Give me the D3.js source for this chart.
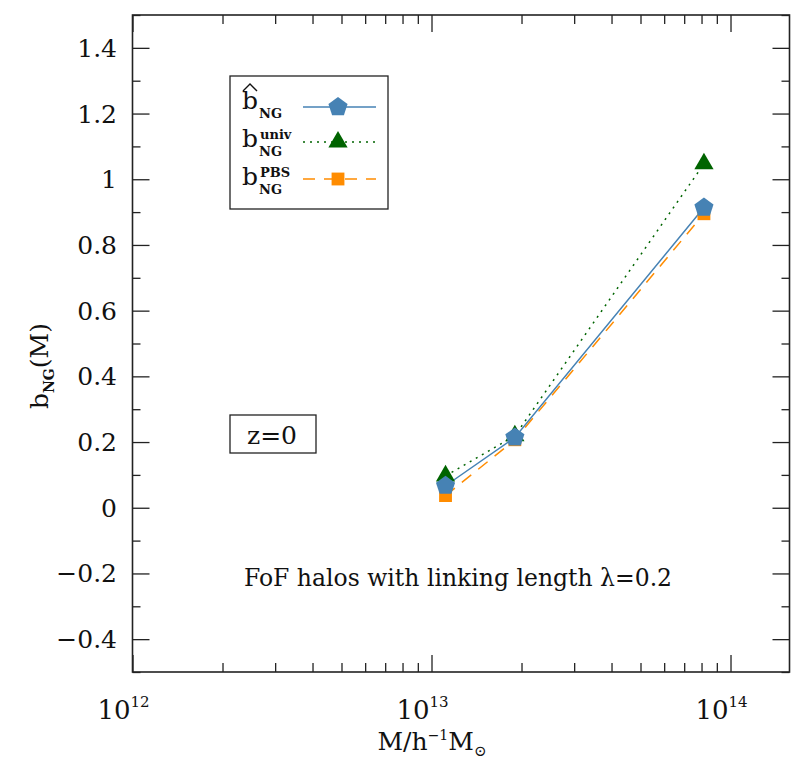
<!DOCTYPE html>
<html>
<head>
<meta charset="utf-8">
<script src="https://cdn.jsdelivr.net/npm/d3@7"></script>
<style>
  body { margin: 0; background: #fff; }
  text { font-family: "DejaVu Serif", serif; fill: #111; }
</style>
</head>
<body>
<div id="chart"></div>
<script>
// halo masses (h^-1 Msun) and non-gaussian bias values
var mass = [1.114e13, 1.90e13, 8.15e13];
var bHat = [0.067, 0.214, 0.914];
var bUniv = [0.097, 0.219, 1.047];
var bPBS = [0.037, 0.207, 0.895];

var yTicks = [-0.4, -0.2, 0, 0.2, 0.4, 0.6, 0.8, 1, 1.2, 1.4];
var yTickLabels = ["\u22120.4", "\u22120.2", "0", "0.2", "0.4", "0.6", "0.8", "1", "1.2", "1.4"];
var xDecades = [1e12, 1e13, 1e14];
var xDecadeExp = ["12", "13", "14"];

function init() {
    var w = 804, h = 767;
    var margin = { top: 15, right: 14.5, bottom: 95, left: 132.5 };

    var svg = d3.select("#chart").append("svg")
        .attr("width", w)
        .attr("height", h);

    var x = d3.scaleLog().domain([1e12, 1.575e14]).range([margin.left, w - margin.right]);
    var y = d3.scaleLinear().domain([-0.5, 1.5]).range([h - margin.bottom, margin.top]);

    var x0 = margin.left, x1 = w - margin.right, y0 = h - margin.bottom, y1 = margin.top;

    var minorX = [];
    [1e12, 1e13, 1e14].forEach(function(d) {
        for (var k = 2; k <= 9; k++) if (d * k < 1.575e14) minorX.push(d * k);
    });
    // minor y ticks at odd tenths
    var minorY = [-0.5, -0.3, -0.1, 0.1, 0.3, 0.5, 0.7, 0.9, 1.1, 1.3, 1.5];

    function styleAxis(g) {
        g.select(".domain").remove();
        g.selectAll("line").attr("stroke", "#222").attr("stroke-width", 1.3);
        g.selectAll("text").remove();
    }

    // ticks on all four sides, pointing inward
    svg.append("g").attr("transform", `translate(0,${y0})`)
        .call(d3.axisBottom(x).tickValues(xDecades).tickSize(-17)).call(styleAxis);
    svg.append("g").attr("transform", `translate(0,${y0})`)
        .call(d3.axisBottom(x).tickValues(minorX).tickSize(-9)).call(styleAxis);
    svg.append("g").attr("transform", `translate(0,${y1})`)
        .call(d3.axisTop(x).tickValues(xDecades).tickSize(-17)).call(styleAxis);
    svg.append("g").attr("transform", `translate(0,${y1})`)
        .call(d3.axisTop(x).tickValues(minorX).tickSize(-9)).call(styleAxis);

    svg.append("g").attr("transform", `translate(${x0},0)`)
        .call(d3.axisLeft(y).tickValues(yTicks).tickSize(-17)).call(styleAxis);
    svg.append("g").attr("transform", `translate(${x0},0)`)
        .call(d3.axisLeft(y).tickValues(minorY).tickSize(-8)).call(styleAxis);
    svg.append("g").attr("transform", `translate(${x1},0)`)
        .call(d3.axisRight(y).tickValues(yTicks).tickSize(-17)).call(styleAxis);
    svg.append("g").attr("transform", `translate(${x1},0)`)
        .call(d3.axisRight(y).tickValues(minorY).tickSize(-8)).call(styleAxis);

    // frame
    svg.append("rect")
        .attr("x", x0).attr("y", y1)
        .attr("width", x1 - x0).attr("height", y0 - y1)
        .attr("fill", "none").attr("stroke", "#222").attr("stroke-width", 1.6);

    // y tick labels
    svg.selectAll(".ylab").data(yTicks).enter().append("text")
        .attr("class", "ylab")
        .attr("x", 117)
        .attr("y", d => y(d) + 9)
        .attr("text-anchor", "end")
        .style("font-size", "25px")
        .text((d, i) => yTickLabels[i]);

    // x tick labels 10^n
    var xl = svg.selectAll(".xlab").data(xDecades).enter().append("text")
        .attr("class", "xlab")
        .attr("x", d => x(d) - 9)
        .attr("y", 719)
        .attr("text-anchor", "middle")
        .style("font-size", "26px");
    xl.append("tspan").text("10");
    xl.append("tspan").attr("dy", -12).style("font-size", "15px").text((d, i) => xDecadeExp[i]);

    // axis titles
    var xt = svg.append("text").attr("x", 432).attr("y", 750)
        .attr("text-anchor", "middle").style("font-size", "25px");
    xt.append("tspan").text("M/h");
    xt.append("tspan").attr("dy", -10).style("font-size", "14px").text("\u22121");
    xt.append("tspan").attr("dy", 10).text("M");
    xt.append("tspan").attr("dy", 6).style("font-size", "15px").text("\u2299");

    var yt = svg.append("text")
        .attr("transform", "translate(48,366) rotate(-90)")
        .attr("text-anchor", "middle").style("font-size", "25px");
    yt.append("tspan").text("b");
    yt.append("tspan").attr("dy", 6).style("font-size", "14px").style("font-weight", "bold").text("NG");
    yt.append("tspan").attr("dy", -6).text("(M)");

    // series
    var series = [
        { name: "pbs", vals: bPBS, color: "#ff8c00", dash: "12,9", shape: d3.symbolSquare, size: 165 },
        { name: "univ", vals: bUniv, color: "#006400", dash: "2,5", shape: d3.symbolTriangle, size: 160 },
        { name: "hat", vals: bHat, color: "#4682b4", dash: null, shape: pentagon, size: 240 }
    ];

    var line = d3.line().x(d => x(d[0])).y(d => y(d[1]));

    series.forEach(function(s) {
        var pts = mass.map((m, i) => [m, s.vals[i]]);
        svg.append("path")
            .datum(pts)
            .attr("d", line)
            .attr("fill", "none")
            .attr("stroke", s.color)
            .attr("stroke-width", 1.5)
            .attr("stroke-dasharray", s.dash);
    });
    series.forEach(function(s) {
        var pts = mass.map((m, i) => [m, s.vals[i]]);
        svg.selectAll(".pt-" + s.name).data(pts).enter().append("path")
            .attr("class", "pt-" + s.name)
            .attr("transform", d => `translate(${x(d[0])},${y(d[1])})`)
            .attr("d", d3.symbol().type(s.shape).size(s.size))
            .attr("fill", s.color);
    });

    // legend
    svg.append("rect").attr("x", 230).attr("y", 76).attr("width", 158).attr("height", 133)
        .attr("fill", "#fff").attr("stroke", "#222").attr("stroke-width", 1.3);

    var legY = { hat: 107, univ: 142, pbs: 179 };
    series.forEach(function(s) {
        var ly = legY[s.name];
        svg.append("line").attr("x1", 303).attr("x2", 376).attr("y1", ly).attr("y2", ly)
            .attr("stroke", s.color).attr("stroke-width", 1.5).attr("stroke-dasharray", s.dash);
        svg.append("path").attr("transform", `translate(338,${ly})`)
            .attr("d", d3.symbol().type(s.shape).size(s.size)).attr("fill", s.color);
    });

    function legendLabel(base, sup, supY) {
        svg.append("text").attr("x", 242).attr("y", base).style("font-size", "25px").text("b");
        svg.append("text").attr("x", 259).attr("y", base + 9).style("font-size", "13px")
            .style("font-weight", "bold").text("NG");
        if (sup) svg.append("text").attr("x", 260).attr("y", supY).style("font-size", "13px")
            .style("font-weight", "bold").text(sup);
    }
    legendLabel(109, null);
    svg.append("path").attr("d", "M243,91 L250,84 L257,91")
        .attr("fill", "none").attr("stroke", "#111").attr("stroke-width", 1.4);
    legendLabel(147, "univ", 139);
    legendLabel(185, "PBS", 177);

    // annotations
    svg.append("rect").attr("x", 230).attr("y", 415).attr("width", 86).attr("height", 38)
        .attr("fill", "#fff").attr("stroke", "#222").attr("stroke-width", 1.3);
    svg.append("text").attr("x", 272).attr("y", 444).attr("text-anchor", "middle")
        .style("font-size", "25px").text("z=0");

    svg.append("text").attr("x", 458).attr("y", 586).attr("text-anchor", "middle")
        .style("font-size", "23.5px").text("FoF halos with linking length \u03bb=0.2");
}

// custom pentagon symbol
var pentagon = {
    draw: function(context, size) {
        var r = Math.sqrt(size / 2.378);
        for (var i = 0; i < 5; i++) {
            var a = -Math.PI / 2 + i * 2 * Math.PI / 5;
            var px = r * Math.cos(a), py = r * Math.sin(a);
            if (i === 0) context.moveTo(px, py); else context.lineTo(px, py);
        }
        context.closePath();
    }
};

window.onload = init;
</script>
</body>
</html>
